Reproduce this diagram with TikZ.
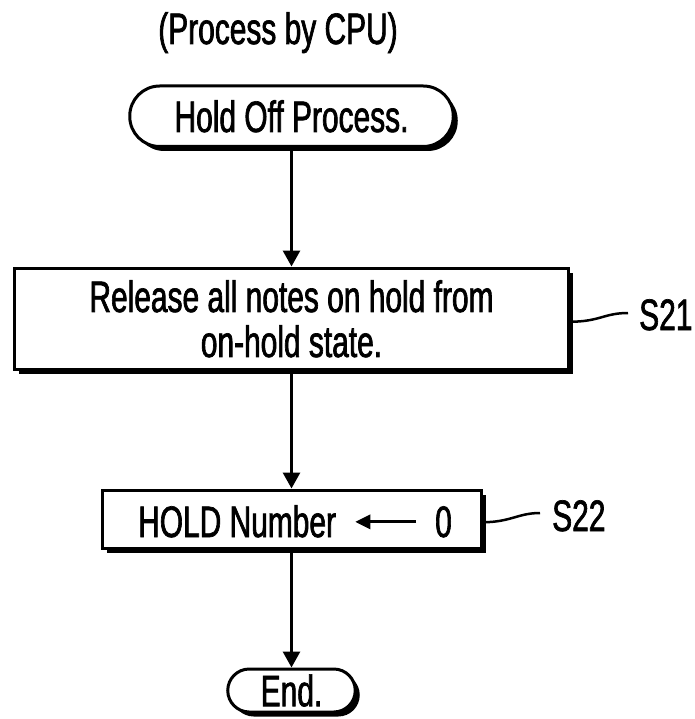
\documentclass[tikz,border=0pt]{standalone}
\usepackage{fontspec}
\setmainfont{Liberation Sans}[FakeStretch=0.68,FakeBold=1.5]
\usetikzlibrary{shadows,arrows.meta}
\begin{document}
\begin{tikzpicture}[x=1pt,y=-1pt,
  every node/.style={font=\fontsize{44}{45}\selectfont},
  shapebox/.style={draw, line width=3pt, fill=white, inner sep=0pt,
    drop shadow={shadow xshift=4.5pt, shadow yshift=-4.5pt, fill=black, opacity=1}},
  txt/.style={inner sep=0pt, anchor=base west},
  flow/.style={line width=3pt, -{Triangle[length=16pt,width=17pt]}},
  inarrow/.style={line width=3pt, -{Triangle[length=15pt,width=14pt]}},
  leader/.style={line width=2.5pt}]
\useasboundingbox (0,0) rectangle (694,719);
\fill[white] (0,0) rectangle (694,719);

\node[inner sep=0pt, anchor=base] (title) at (278,44) {(Process by CPU)};

\node[shapebox, rounded corners=30pt, minimum width=323.5pt, minimum height=60.5pt] (start) at (291.5,116.25) {Hold Off Process.};

\node[shapebox, minimum width=553.5pt, minimum height=101.5pt, align=center] (s21) at (291.5,318.75)
  {Release all notes on hold from\\on-hold state.};

\node[shapebox, minimum width=379pt, minimum height=58.5pt] (s22) at (291.5,519.25) {};
\node[txt] (hn) at (138,537) {HOLD Number};
\node[txt] (zero) at (435,537) {0};

\node[shapebox, rounded corners=21.5pt, minimum width=127.5pt, minimum height=43pt] (end) at (291.5,690.5) {End.};

\node[txt] (lab21) at (639,330) {S21};
\node[txt] (lab22) at (552,531) {S22};
\coordinate (l21) at (628,313);
\coordinate (l22) at (540,513);

\draw[flow] (start.south) -- (s21.north);
\draw[flow] (s21.south) -- (s22.north);
\draw[flow] (s22.south) -- (end.north);

\draw[inarrow, shorten <=19pt, shorten >=19pt] (zero.west) -- (zero.west -| hn.east);

\draw[leader] ([yshift=-3pt]s21.east) .. controls +(30,0) and +(-24,0) .. (l21);
\draw[leader] ([yshift=-3pt]s22.east) .. controls +(28,0) and +(-22,0) .. (l22);
\end{tikzpicture}
\end{document}
